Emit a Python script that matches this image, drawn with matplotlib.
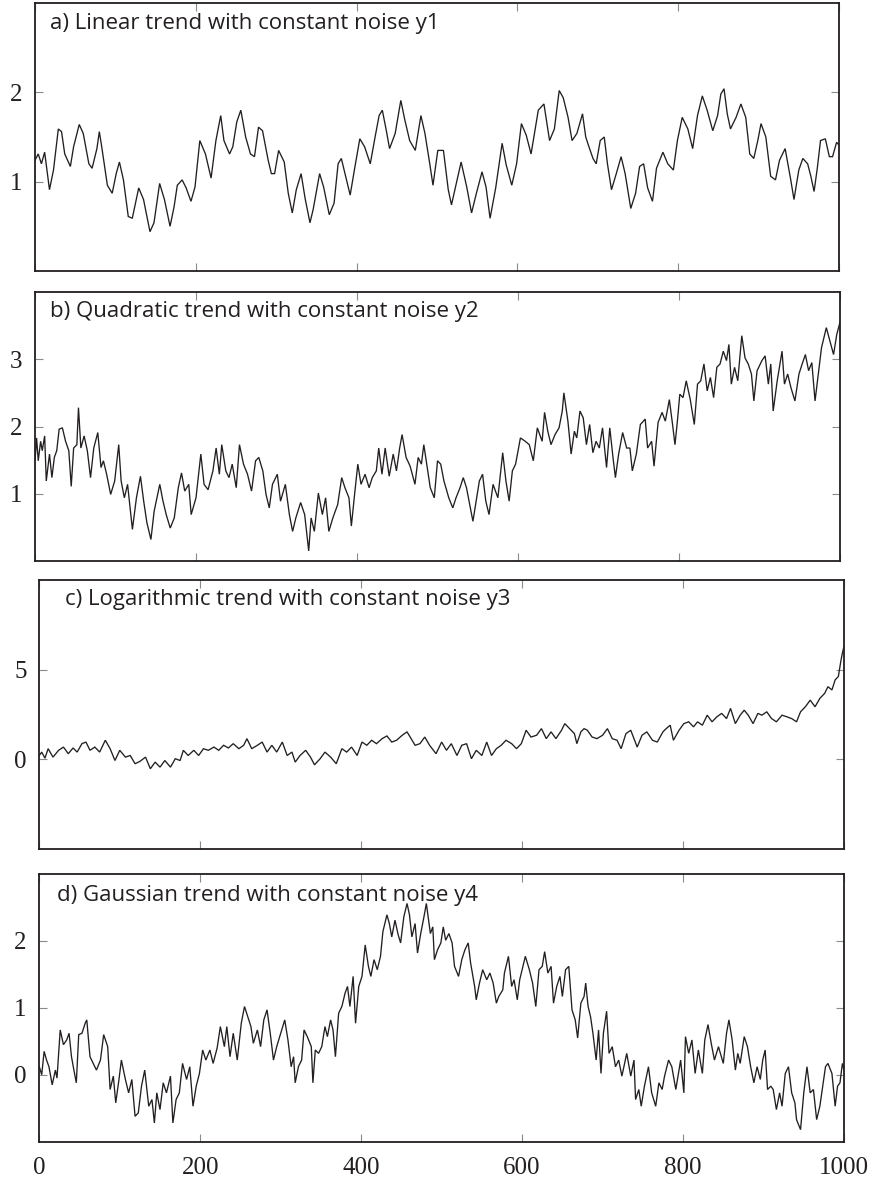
import matplotlib
matplotlib.use("Agg")
import matplotlib.pyplot as plt

# ---------------- series samples (time index, value) ----------------
t_a = [0, 4, 8, 12, 18, 23, 29, 33, 37, 44, 48, 55, 60, 67, 71, 77, 80, 83, 90, 96,
       101, 105, 110, 116, 121, 129, 135, 143, 148, 155, 161, 168, 173, 177, 183, 188, 194, 199,
       205, 212, 219, 225, 231, 235, 242, 246, 251, 256, 262, 268, 273, 278, 283, 290, 294, 298,
       303, 310, 315, 320, 325, 331, 336, 342, 346, 354, 359, 366, 372, 377, 381, 392, 398,
       404, 410, 417, 423, 428, 432, 437, 441, 448, 455, 460, 466, 473, 480, 485, 491, 495,
       501, 508, 514, 518, 524, 530, 537, 543, 549, 556, 561, 566, 573, 581, 586, 593, 599,
       605, 611, 617, 626, 633, 640, 646, 652, 657, 663, 668, 674, 681, 685, 689, 694, 698,
       703, 708, 712, 717, 723, 729, 734, 741, 747, 752, 757, 762, 768, 773, 781, 787, 794,
       799, 805, 812, 818, 824, 830, 836, 843, 849, 853, 857, 861, 865, 872, 878, 884, 889,
       894, 899, 903, 909, 915, 921, 926, 933, 940, 944, 950, 955, 961, 965, 969, 973, 977,
       983, 988, 992, 997, 1000]
y_a = [1.24, 1.31, 1.20, 1.33, 0.91, 1.13, 1.59, 1.56, 1.31, 1.17, 1.39, 1.64, 1.54, 1.20, 1.15,
       1.37, 1.56, 1.39, 0.96, 0.87, 1.09, 1.22, 1.02, 0.61, 0.59, 0.93, 0.80, 0.44, 0.54, 0.98,
       0.80, 0.50, 0.72, 0.96, 1.02, 0.93, 0.78, 0.94, 1.46, 1.31, 1.04, 1.46, 1.74, 1.46, 1.31,
       1.39, 1.67, 1.80, 1.50, 1.31, 1.28, 1.61, 1.57, 1.24, 1.09, 1.09, 1.35, 1.22, 0.87, 0.65,
       0.91, 1.09, 0.81, 0.54, 0.69, 1.09, 0.94, 0.63, 0.76, 1.20, 1.26, 0.85, 1.17,
       1.48, 1.39, 1.20, 1.50, 1.74, 1.80, 1.57, 1.37, 1.54, 1.91, 1.69, 1.46, 1.35, 1.74, 1.54,
       1.20, 0.96, 1.35, 1.35, 0.91, 0.74, 0.98, 1.22, 0.94, 0.65, 0.87, 1.11, 0.94, 0.59, 0.93,
       1.43, 1.19, 0.96, 1.20, 1.65, 1.52, 1.31, 1.80, 1.87, 1.46, 1.59, 2.02, 1.94, 1.72, 1.46,
       1.54, 1.76, 1.50, 1.39, 1.26, 1.20, 1.46, 1.50, 1.20, 0.91, 1.09, 1.28, 1.09, 0.70, 0.87,
       1.17, 1.20, 0.93, 0.78, 1.15, 1.33, 1.20, 1.13, 1.46, 1.72, 1.59, 1.37, 1.74, 1.96, 1.80,
       1.57, 1.74, 1.98, 2.04, 1.76, 1.59, 1.72, 1.87, 1.72, 1.31, 1.26, 1.46, 1.65, 1.50, 1.06,
       1.02, 1.24, 1.37, 1.02, 0.80, 1.13, 1.26, 1.20, 1.06, 0.89, 1.15, 1.46, 1.48, 1.28, 1.28,
       1.44, 1.41]

t_b = [0, 2, 4, 7, 9, 12, 14, 18, 21, 24, 27, 30, 34, 38, 42, 45, 48, 52, 54, 57, 61, 65, 69,
       73, 78, 82, 85, 89, 94, 99, 104, 107, 111, 115, 121, 126, 131, 135, 139, 144, 148, 155,
       159, 163, 168, 173, 178, 182, 186, 191, 194, 200, 206, 210, 215, 221, 225, 229, 232, 237,
       241, 245, 250, 254, 259, 264, 269, 274, 278, 283, 287, 291, 295, 301, 305, 311, 316,
       320, 324, 330, 335, 340, 343, 347, 352, 357, 361, 365, 370, 376, 381, 385, 390, 393,
       397, 401, 405, 410, 415, 419, 424, 427, 431, 435, 440, 445, 449, 453, 456, 461, 466,
       472, 476, 480, 483, 487, 491, 496, 500, 504, 508, 514, 519, 523, 528, 532, 536, 540,
       544, 548, 552, 556, 560, 564, 569, 575, 581, 585, 589, 593, 597, 603, 609, 614, 619,
       624, 630, 633, 637, 641, 646, 651, 655, 657, 662, 666, 670, 673, 677, 681, 685, 689,
       693, 697, 701, 705, 710, 714, 718, 721, 725, 730, 735, 739, 742, 747, 752, 758, 761,
       766, 769, 774, 779, 783, 788, 792, 795, 798, 801, 805, 809, 814, 819, 823, 827, 831,
       835, 839, 843, 847, 851, 855, 859, 862, 865, 869, 873, 878, 882, 886, 890, 893, 897,
       903, 907, 911, 914, 917, 922, 928, 931, 935, 939, 944, 949, 953, 957, 961, 965, 969,
       973, 977, 983, 988, 992, 996, 1000]
y_b = [1.49, 1.83, 1.49, 1.78, 1.64, 1.86, 1.19, 1.59, 1.24, 1.54, 1.64, 1.96, 1.98, 1.78, 1.64,
       1.11, 1.68, 1.73, 2.28, 1.68, 1.86, 1.64, 1.24, 1.68, 1.91, 1.39, 1.49, 1.29, 0.99, 1.19,
       1.73, 1.19, 0.94, 1.14, 0.47, 0.94, 1.26, 0.89, 0.57, 0.32, 0.74, 1.14, 0.89, 0.69, 0.49,
       0.64, 1.09, 1.31, 1.04, 1.14, 0.69, 0.94, 1.59, 1.14, 1.06, 1.34, 1.68, 1.29, 1.73, 1.34,
       1.24, 1.44, 1.09, 1.73, 1.44, 1.29, 1.04, 1.49, 1.54, 1.34, 0.99, 0.79, 1.14, 1.29, 0.89,
       1.14, 0.69, 0.44, 0.64, 0.87, 0.69, 0.15, 0.64, 0.44, 1.01, 0.69, 0.94, 0.44, 0.64, 0.84,
       1.24, 1.09, 0.94, 0.52, 0.99, 1.44, 1.14, 1.29, 1.09, 1.24, 1.34, 1.68, 1.29, 1.68, 1.26,
       1.59, 1.34, 1.68, 1.88, 1.54, 1.41, 1.14, 1.54, 1.44, 1.73, 1.41, 1.09, 0.94, 1.49, 1.44,
       1.19, 0.94, 0.79, 0.94, 1.09, 1.24, 1.09, 0.84, 0.59, 0.89, 1.19, 1.29, 0.89, 0.69, 1.14,
       0.94, 1.61, 1.19, 0.89, 1.34, 1.44, 1.83, 1.78, 1.73, 1.49, 1.98, 1.78, 2.21, 1.93, 1.73,
       1.88, 1.98, 2.23, 2.50, 2.08, 1.59, 1.93, 1.83, 2.23, 2.13, 1.73, 2.03, 1.61, 1.78, 1.68,
       1.98, 1.39, 1.98, 1.54, 1.24, 1.59, 1.91, 1.68, 1.68, 1.34, 1.59, 2.03, 2.11, 1.68, 1.78,
       1.41, 2.06, 2.21, 2.08, 2.40, 2.03, 1.73, 2.08, 2.48, 2.43, 2.68, 2.40, 2.03, 2.63, 2.68,
       2.93, 2.53, 2.73, 2.43, 2.88, 2.93, 3.12, 2.98, 3.22, 2.63, 2.88, 2.68, 3.35, 3.02, 2.93,
       2.78, 2.38, 2.83, 2.98, 3.05, 2.63, 2.93, 2.23, 2.68, 3.12, 2.63, 2.78, 2.58, 2.38, 2.78,
       2.93, 3.07, 2.83, 2.95, 2.38, 2.78, 3.17, 3.47, 3.25, 3.07, 3.37, 3.55]

t_c = [0, 3, 7, 11, 17, 24, 30, 36, 42, 47, 53, 58, 63, 69, 75, 82, 88, 94, 100, 107, 113, 119,
       125, 132, 138, 144, 150, 156, 163, 169, 175, 179, 185, 192, 198, 204, 210, 217, 223,
       229, 235, 241, 248, 254, 258, 264, 271, 277, 283, 289, 295, 302, 308, 314, 318, 324,
       331, 337, 342, 349, 355, 362, 369, 376, 382, 388, 395, 401, 407, 413, 419, 426, 432,
       438, 444, 451, 457, 462, 467, 473, 479, 485, 493, 500, 506, 512, 519, 525, 531, 537,
       543, 550, 556, 562, 568, 574, 580, 587, 593, 599, 605, 611, 618, 624, 630, 636, 642,
       649, 653, 659, 665, 668, 673, 677, 681, 687, 693, 700, 706, 712, 718, 723, 729, 735, 739,
       743, 749, 755, 762, 768, 775, 779, 784, 788, 795, 801, 807, 813, 818, 824, 830, 836,
       842, 848, 854, 859, 865, 871, 876, 881, 887, 893, 898, 904, 910, 916, 923, 929, 935,
       941, 946, 952, 958, 964, 970, 976, 980, 985, 989, 993, 996, 998, 1000]
y_c = [0.22, 0.41, 0.07, 0.60, 0.13, 0.51, 0.69, 0.32, 0.64, 0.41, 0.88, 0.97, 0.51, 0.69, 0.41,
       1.07, 0.60, -0.06, 0.51, 0.13, 0.22, -0.24, -0.11, 0.13, -0.52, -0.15, -0.43, -0.06,
       -0.43, 0.04, -0.06, 0.51, 0.22, 0.51, 0.22, 0.60, 0.51, 0.69, 0.51, 0.79, 0.64, 0.88,
       0.60, 0.79, 1.16, 0.60, 0.79, 0.97, 0.41, 0.79, 0.41, 0.97, 0.22, 0.41, -0.15, 0.22,
       0.51, 0.13, -0.30, 0.04, 0.41, 0.13, -0.24, 0.60, 0.41, 0.69, 0.22, 0.97, 0.79, 1.07,
       0.88, 1.16, 1.31, 0.97, 1.07, 1.35, 1.54, 1.16, 0.79, 0.88, 1.25, 0.79, 0.32, 0.97, 0.51,
       0.88, 0.22, 0.79, 0.88, 0.04, 0.51, 0.22, 0.97, 0.22, 0.60, 0.79, 1.07, 0.88, 0.60, 0.88,
       1.63, 1.25, 1.35, 1.72, 1.16, 1.54, 1.16, 1.63, 2.00, 1.72, 1.44, 0.88, 1.54, 1.72, 1.63,
       1.25, 1.16, 1.35, 1.72, 1.16, 1.07, 0.60, 1.44, 1.63, 1.16, 0.69, 1.35, 1.54, 1.07, 0.97,
       1.54, 1.72, 1.91, 1.07, 1.63, 2.00, 2.10, 1.82, 2.10, 1.91, 2.47, 2.10, 2.38, 2.57, 2.28,
       2.85, 2.00, 2.47, 2.75, 2.47, 2.00, 2.57, 2.47, 2.66, 2.28, 2.10, 2.47, 2.38, 2.28, 2.10,
       2.66, 2.94, 3.31, 2.94, 3.41, 3.69, 4.06, 3.88, 4.44, 4.63, 5.47, 5.94, 6.31]

t_d = [0, 3, 6, 9, 12, 16, 20, 22, 26, 30, 34, 37, 40, 43, 46, 49, 53, 57, 59, 63, 67, 71, 76,
       80, 85, 88, 92, 95, 99, 102, 107, 111, 115, 119, 123, 127, 131, 136, 140, 143, 146,
       150, 154, 158, 163, 166, 170, 174, 178, 183, 187, 191, 195, 199, 203, 207, 212, 216,
       221, 225, 230, 233, 237, 241, 246, 251, 255, 259, 263, 266, 271, 275, 279, 283, 287,
       291, 295, 300, 305, 309, 313, 316, 318, 322, 326, 329, 333, 338, 340, 343, 347, 351,
       355, 358, 362, 365, 368, 372, 376, 380, 383, 386, 390, 393, 397, 401, 405, 409, 412,
       416, 420, 424, 427, 432, 435, 438, 442, 446, 449, 453, 457, 460, 463, 467, 470, 474,
       478, 481, 486, 489, 491, 495, 499, 502, 505, 509, 513, 516, 521, 525, 529, 533, 536,
       541, 543, 547, 551, 556, 560, 564, 568, 571, 576, 578, 583, 587, 590, 594, 597, 601,
       604, 609, 613, 617, 621, 625, 628, 632, 636, 639, 643, 647, 650, 654, 658, 662, 666,
       669, 673, 677, 679, 682, 685, 688, 692, 695, 698, 701, 705, 708, 712, 716, 720, 724,
       730, 735, 739, 741, 745, 748, 752, 757, 761, 766, 770, 774, 777, 782, 786, 791, 797,
       801, 803, 807, 811, 815, 819, 824, 827, 831, 835, 839, 844, 850, 854, 857, 861, 865,
       868, 871, 876, 880, 884, 888, 892, 896, 899, 902, 905, 909, 912, 916, 920, 923, 927,
       931, 935, 939, 941, 946, 950, 954, 958, 962, 966, 970, 973, 977, 980, 985, 989, 992,
       995, 998, 1000]
y_d = [0.12, 0.00, 0.35, 0.22, 0.12, -0.15, 0.07, -0.05, 0.67, 0.45, 0.52, 0.62, 0.27, 0.07,
       -0.12, 0.60, 0.62, 0.77, 0.82, 0.27, 0.17, 0.07, 0.22, 0.60, 0.42, -0.22, -0.02, -0.42,
       -0.07, 0.22, -0.07, -0.27, -0.07, -0.62, -0.57, -0.17, 0.07, -0.47, -0.37, -0.72, -0.27,
       -0.52, -0.12, -0.27, -0.02, -0.72, -0.37, -0.27, 0.17, -0.07, 0.12, -0.47, -0.17, 0.02,
       0.37, 0.22, 0.37, 0.17, 0.40, 0.72, 0.42, 0.72, 0.27, 0.62, 0.22, 0.77, 1.02, 0.87, 0.72,
       0.47, 0.67, 0.42, 0.82, 0.97, 0.62, 0.22, 0.42, 0.62, 0.82, 0.52, 0.12, 0.27, -0.12,
       0.12, 0.22, 0.67, 0.57, 0.42, -0.12, 0.37, 0.32, 0.42, 0.72, 0.57, 0.82, 0.67, 0.27,
       0.92, 1.02, 1.22, 1.32, 1.02, 1.47, 0.77, 1.32, 1.47, 1.94, 1.62, 1.47, 1.72, 1.57, 1.77,
       2.14, 2.39, 2.26, 2.06, 2.31, 2.09, 1.97, 2.36, 2.56, 2.39, 2.06, 2.26, 1.82, 2.11, 2.36,
       2.56, 2.11, 2.21, 1.72, 1.87, 1.97, 2.21, 2.01, 2.11, 1.97, 1.62, 1.47, 1.72, 1.87, 1.97,
       1.67, 1.32, 1.12, 1.37, 1.57, 1.42, 1.52, 1.37, 1.07, 1.17, 1.27, 1.52, 1.77, 1.32, 1.42,
       1.12, 1.42, 1.62, 1.77, 1.57, 1.37, 1.02, 1.57, 1.62, 1.84, 1.52, 1.62, 1.07, 1.32, 1.47,
       1.17, 1.57, 1.62, 0.97, 0.82, 0.55, 1.07, 1.17, 1.37, 1.02, 0.87, 0.62, 0.22, 0.67,
       0.02, 0.62, 0.95, 0.32, 0.42, 0.12, 0.22, -0.02, 0.32, -0.02, 0.22, -0.37, -0.22, -0.47,
       -0.17, 0.12, -0.27, -0.47, -0.12, -0.22, -0.02, 0.22, 0.12, -0.22, 0.22, -0.27, 0.57,
       0.32, 0.52, 0.02, 0.37, 0.02, 0.52, 0.75, 0.47, 0.22, 0.42, 0.17, 0.62, 0.82, 0.52, 0.07,
       0.32, 0.17, 0.57, 0.42, 0.12, -0.12, 0.12, -0.07, 0.22, 0.37, -0.22, -0.17, -0.22, -0.52,
       -0.27, -0.47, 0.02, 0.12, -0.27, -0.42, -0.67, -0.82, -0.27, 0.12, -0.27, -0.22, -0.67,
       -0.47, -0.22, 0.12, 0.17, 0.02, -0.47, -0.17, -0.12, 0.17, 0.07]

titles = ["a) Linear trend with constant noise y1",
          "b) Quadratic trend with constant noise y2",
          "c) Logarithmic trend with constant noise y3",
          "d) Gaussian trend with constant noise y4"]
ylims = [(0, 3), (0, 4), (-5, 10), (-1, 3)]
yticks = [[1, 2], [1, 2, 3], [0, 5], [0, 1, 2]]
xticks = [0, 200, 400, 600, 800, 1000]

# ---------------- layout ----------------
W, H = 870, 1180
# (left, top, right, bottom) of each panel in pixels
boxes = [(35, 3, 839, 271), (35, 292, 840, 561),
         (39.3, 580.3, 844, 849), (39.3, 874, 844, 1141.7)]
title_offsets = [(15, 21), (15, 20), (26, 19), (18, 21)]

ink = "#231f20"
plt.rcParams["font.family"] = ["Liberation Serif", "DejaVu Serif"]

fig = plt.figure(figsize=(W / 100, H / 100), dpi=100)
series = [(t_a, y_a), (t_b, y_b), (t_c, y_c), (t_d, y_d)]

for i, ((l, t, r, b), (tx, ty)) in enumerate(zip(boxes, series)):
    ax = fig.add_axes([l / W, 1 - b / H, (r - l) / W, (b - t) / H])
    ax.plot(tx, ty, color=ink, lw=0.95, solid_joinstyle="miter")
    ax.set_xlim(0, 1000)
    ax.set_ylim(*ylims[i])
    ax.set_xticks(xticks)
    ax.set_yticks(yticks[i])
    ax.tick_params(direction="in", length=6, width=0.8, color="#8a8a8a",
                   top=True, right=True, labelsize=18, labelcolor=ink)
    ax.tick_params(axis="y", pad=9)
    ax.tick_params(axis="x", pad=11)
    if i < 3:
        ax.tick_params(axis="x", labelbottom=False)
    for s in ax.spines.values():
        s.set_linewidth(1.3)
        s.set_color(ink)
    dx, dy = title_offsets[i]
    ax.text(dx / (r - l), 1 - dy / (b - t), titles[i], transform=ax.transAxes,
            ha="left", va="center", fontsize=16, color=ink,
            family=["Open Sans", "DejaVu Sans"])

fig.savefig("out.png", dpi=100)
